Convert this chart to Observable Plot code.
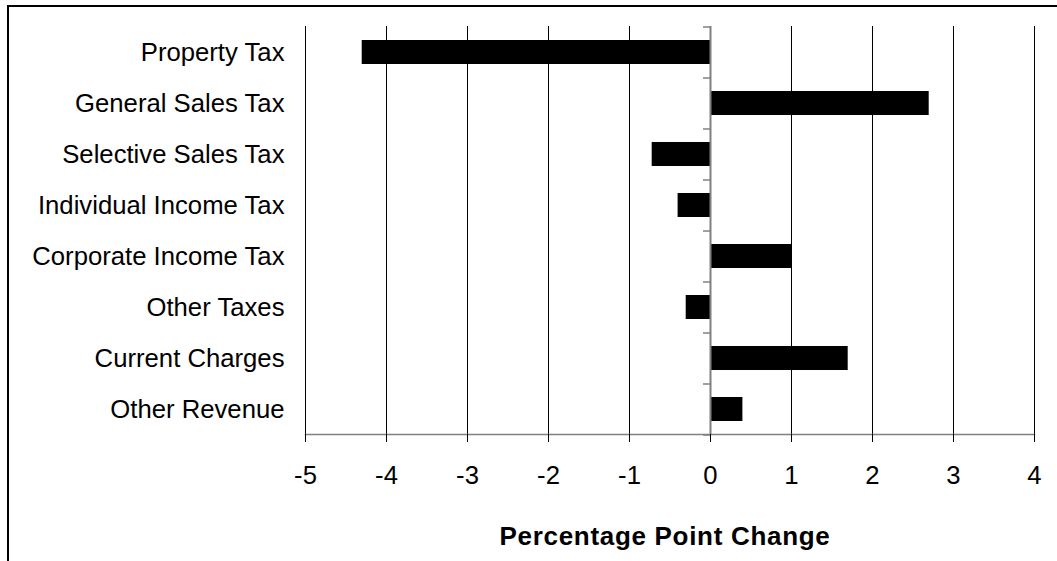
<!DOCTYPE html>
<html>
<head>
<meta charset="utf-8">
<script src="https://cdn.jsdelivr.net/npm/d3@7"></script>
<script src="https://cdn.jsdelivr.net/npm/@observablehq/plot@0.6"></script>
<style>
  html, body { margin: 0; padding: 0; background: white; overflow: hidden; }
  #wrap { position: relative; width: 1057px; height: 561px; }
  #border { position: absolute; left: 7px; top: 5px; width: 1100px; height: 600px;
            border-top: 2px solid black; border-left: 2px solid black; pointer-events: none; }
  #chart { position: absolute; left: 0; top: 0; }
  .xtitle text { letter-spacing: 0.7px; }
</style>
</head>
<body>
<div id="wrap"><div id="chart"></div><div id="border"></div></div>
<script>
const categories = [
  "Property Tax",
  "General Sales Tax",
  "Selective Sales Tax",
  "Individual Income Tax",
  "Corporate Income Tax",
  "Other Taxes",
  "Current Charges",
  "Other Revenue"
];
const values = [-4.3, 2.7, -0.72, -0.4, 1.0, -0.3, 1.7, 0.4];
const xTicks = [-5, -4, -3, -2, -1, 0, 1, 2, 3, 4];
const xLabel = "Percentage Point Change";

const data = categories.map((c, i) => ({category: c, value: values[i]}));

const W = 1057, H = 561, mT = 26, mB = 127, mL = 305, mR = 23;
const step = (H - mT - mB) / categories.length;

const chart = Plot.plot({
  width: W, height: H,
  marginLeft: mL, marginRight: mR, marginTop: mT, marginBottom: mB,
  style: {fontFamily: "'Liberation Sans', Arial, sans-serif", fontSize: "25.7px", color: "black", background: "transparent", overflow: "visible"},
  x: {domain: [-5, 4]},
  y: {domain: categories, paddingInner: 0.53, paddingOuter: 0.265},
  marks: [
    Plot.ruleX(xTicks, {stroke: "black", strokeWidth: 1}),
    Plot.barX(data, {x: "value", y: "category", fill: "black"}),
    Plot.ruleX([0], {stroke: "#808080", strokeWidth: 2}),
    Plot.ruleY(categories, {y: d => d, x1: 0, x2: 0, insetLeft: -7, dy: -step / 2, stroke: "#808080", strokeWidth: 1.5}),
    Plot.ruleY(categories.slice(-1), {y: d => d, x1: 0, x2: 0, insetLeft: -7, dy: step / 2, stroke: "#808080", strokeWidth: 1.5}),
    Plot.frame({anchor: "bottom", stroke: "#808080", strokeWidth: 1.5}),
    Plot.axisX({ticks: xTicks, tickSize: 8, tickPadding: 23, label: null, fontSize: 25.7, tickFormat: d => String(d).replace("−", "-")}),
    Plot.axisY({tickSize: 0, tickPadding: 21, label: null, fontSize: 25.7}),
    Plot.text([xLabel], {frameAnchor: "bottom", dy: 110, dx: -5, lineAnchor: "bottom", fontWeight: "bold", fontSize: 26, text: d => d, className: "xtitle"})
  ]
});
d3.select(chart).selectAll("text").filter(function() { return this.textContent === xLabel; })
  .attr("letter-spacing", "0.7px");
document.getElementById("chart").appendChild(chart);
</script>
</body>
</html>
